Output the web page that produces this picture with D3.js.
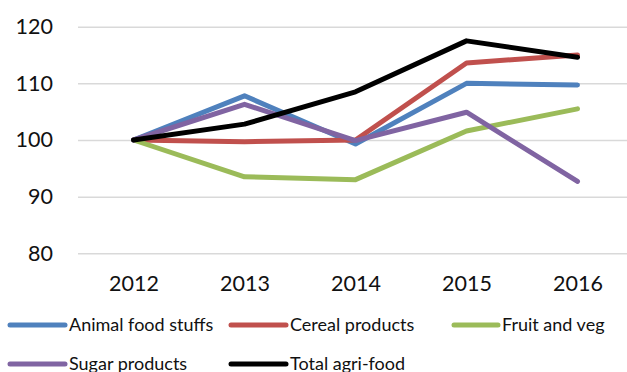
<!DOCTYPE html>
<html>
<head>
<meta charset="utf-8">
<script src="https://cdn.jsdelivr.net/npm/d3@7"></script>
<style>
  body { margin: 0; background: #fff; }
  svg { display: block; font-family: Lato, "Open Sans", sans-serif; }
</style>
</head>
<body>
<script>
// chart data
var years = ["2012", "2013", "2014", "2015", "2016"];
var yTicks = [80, 90, 100, 110, 120];

var animalFood = [100, 107.8, 99.3, 110.0, 109.7];
var cerealProducts = [100, 99.7, 100.0, 113.6, 115.0];
var fruitVeg = [100, 93.5, 93.0, 101.6, 105.5];
var sugarProducts = [100, 106.3, 99.9, 104.9, 92.7];
var totalAgriFood = [100, 102.8, 108.5, 117.5, 114.6];

var seriesNames = ["Animal food stuffs", "Cereal products", "Fruit and veg", "Sugar products", "Total agri-food"];
var seriesValues = [animalFood, cerealProducts, fruitVeg, sugarProducts, totalAgriFood];
var seriesColors = ["#4f81bd", "#c0504d", "#9bbb59", "#8064a2", "#000000"];

var width = 627, height = 372;

var svg = d3.select("body").append("svg")
    .attr("width", width)
    .attr("height", height);

// scales
var xScale = d3.scalePoint().domain(years).range([78, 633]).padding(0.5);
var yScale = d3.scaleLinear().domain([80, 120]).range([253.3, 26.7]);

// horizontal gridlines
svg.append("g")
    .attr("class", "grid")
    .attr("transform", "translate(78,0)")
    .call(d3.axisRight(yScale).tickValues(yTicks).tickSize(555).tickFormat(""))
    .call(function(g) { g.select(".domain").remove(); })
    .selectAll("line")
    .attr("stroke", "#d9d9d9")
    .attr("stroke-width", 1.5);

// y axis labels
svg.append("g")
    .attr("transform", "translate(53,0)")
    .call(d3.axisLeft(yScale).tickValues(yTicks).tickSize(0).tickPadding(0))
    .call(function(g) { g.select(".domain").remove(); })
    .selectAll("text")
    .attr("font-family", "Lato, sans-serif")
    .attr("font-size", "21.5px")
    .attr("fill", "#111");

// x axis labels
svg.append("g")
    .attr("transform", "translate(0,276)")
    .call(d3.axisBottom(xScale).tickSize(0).tickPadding(0))
    .call(function(g) { g.select(".domain").remove(); })
    .selectAll("text")
    .attr("font-family", "Lato, sans-serif")
    .attr("font-size", "21.5px")
    .attr("dy", "0.72em")
    .attr("fill", "#111");

// lines
var line = d3.line()
    .x(function(d, i) { return xScale(years[i]); })
    .y(function(d) { return yScale(d); });

svg.selectAll(".series")
    .data(seriesValues)
    .enter()
    .append("path")
    .attr("class", "series")
    .attr("d", function(d) { return line(d); })
    .attr("fill", "none")
    .attr("stroke", function(d, i) { return seriesColors[i]; })
    .attr("stroke-width", 5)
    .attr("stroke-linejoin", "round")
    .attr("stroke-linecap", "round");

// legend
var legendPos = [[10, 325], [231, 325], [454, 325], [10, 364], [231, 364]];
var legendLen = [55, 55, 44, 55, 55];

var legend = svg.selectAll(".legend")
    .data(seriesNames)
    .enter()
    .append("g")
    .attr("class", "legend")
    .attr("transform", function(d, i) { return "translate(" + legendPos[i][0] + "," + legendPos[i][1] + ")"; });

legend.append("line")
    .attr("x1", 0)
    .attr("x2", function(d, i) { return legendLen[i]; })
    .attr("stroke", function(d, i) { return seriesColors[i]; })
    .attr("stroke-width", 5)
    .attr("stroke-linecap", "round");

legend.append("text")
    .attr("x", function(d, i) { return legendLen[i] + 4; })
    .attr("dy", "0.35em")
    .attr("font-size", "18px")
    .attr("fill", "#111")
    .text(function(d) { return d; });
</script>
</body>
</html>
